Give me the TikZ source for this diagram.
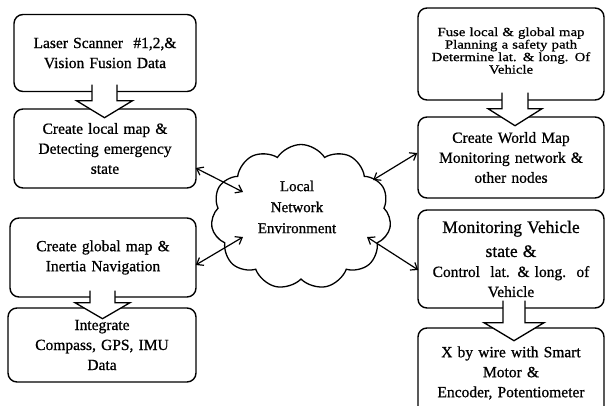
\documentclass[tikz,border=0pt]{standalone}
\usepackage{fontspec}
\setmainfont{Liberation Serif}
\newfontfamily\boxfont[FakeBold=0.8]{Liberation Serif}
\newfontfamily\narrowfont[FakeStretch=1.18,FakeBold=0.8]{Liberation Serif}
\usetikzlibrary{shapes.symbols,calc,arrows.meta}
\begin{document}
\begin{tikzpicture}[x=1pt,y=-1pt,
  box/.style={draw, line width=1.4pt, rounded corners=9pt, align=center,
    inner sep=0pt, text width=184pt, font=\boxfont\fontsize{15.5}{20}\selectfont},
  pics/harrow/.style n args={4}{code={
    \fill[white] (-#1,0) -- (-#1,#3) -- (-#2,#3) -- (0,#3+#4) -- (#2,#3) -- (#1,#3) -- (#1,0) -- cycle;
    \draw[line width=1.3pt, line join=miter] (-#1,0) -- (-#1,#3) -- (-#2,#3) -- (0,#3+#4) -- (#2,#3) -- (#1,#3) -- (#1,0);
  }},
  link/.style={line width=1.2pt, {Straight Barb[length=6pt,width=9pt]}-{Straight Barb[length=6pt,width=9pt]}},
  cloudnode/.style={cloud, draw, line width=1.3pt, cloud puffs=11, cloud puff arc=115,
    inner sep=0pt}
]
\useasboundingbox (0,0) rectangle (606,405);

% left column
\node[box, minimum width=182pt, minimum height=77pt, text width=178pt] (b1) at (105,53)
  {Laser Scanner \ \#1,2,\&\\Vision Fusion Data};
\node[box, minimum width=182pt, minimum height=79pt, text width=178pt] (b2) at (105,148.5)
  {Create local map \&\\Detecting emergency\\state};
\node[box, minimum width=186pt, minimum height=79pt, text width=182pt] (b3) at (103,257.5)
  {Create global map \&\\Inertia Navigation};
\node[box, minimum width=188pt, minimum height=74pt, text width=184pt] (b4) at (102,345)
  {Integrate\\Compass, GPS, IMU\\Data};

% right column
\node[box, minimum width=186pt, minimum height=92pt,
  font=\narrowfont\fontsize{12.5}{12.5}\selectfont] (b5) at (511,54)
  {Fuse local \& global map\\Planning a safety path\\Determine lat. \& long. Of\\Vehicle\\[-5.5pt]\mbox{}};
\node[box, minimum width=186pt, minimum height=81pt] (b6) at (511,157.5)
  {Create World Map\\Monitoring network \&\\other nodes};
\node[box, minimum width=186pt, minimum height=98pt] (b7) at (511,259)
  {{\fontsize{17.5}{22}\selectfont Monitoring Vehicle}\\[4pt]
   {\fontsize{17.5}{22}\selectfont state \&}\\
   Control\ \ lat. \& long.\ \ of\\Vehicle};
\node[box, minimum width=186pt, minimum height=90pt] (b8) at (511,373)
  {X by wire with Smart\\Motor \&\\Encoder, Potentiometer};

% cloud
\node[cloudnode, minimum width=180pt, minimum height=145pt] (net) at (301,217) {};
\node[font=\boxfont\fontsize{15}{21}\selectfont, align=center] (nettext) at (297,207)
  {Local\\Network\\Environment};

% hollow arrows
\pic at ($(b1.south)+(-0.5,-7.5)$) {harrow={12.5}{28}{16}{17}};
\pic at ($(b3.south)+(-0.5,-7)$) {harrow={12.5}{27.5}{12}{16}};
\pic at ($(b5.south)+(4,-8)$) {harrow={13}{27}{16}{17}};
\pic at ($(b7.south)+(3,-8)$) {harrow={11}{30}{22}{18}};

% links
\draw[link] ($(b2.east)+(-1,19.5)$) -- ($(net.center)+(-58,-25)$);
\draw[link] ($(b3.east)+(-1,7.5)$) -- ($(net.center)+(-58,20)$);
\draw[link] ($(net.center)+(72,-37)$) -- ($(b6.west)+(0,-4.5)$);
\draw[link] ($(net.center)+(66,20)$) -- ($(b7.west)+(1,11)$);
\end{tikzpicture}
\end{document}
